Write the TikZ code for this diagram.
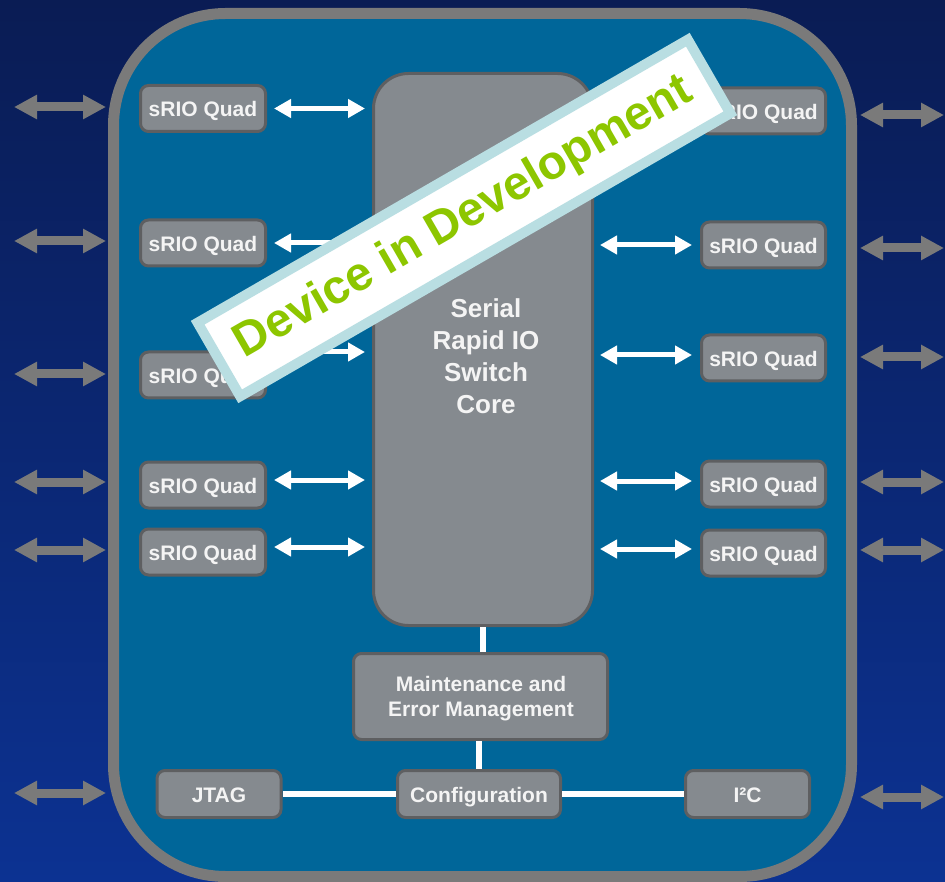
\documentclass[tikz,border=0pt]{standalone}
\usepackage{fontspec}
\setmainfont{Liberation Sans}
\usetikzlibrary{arrows.meta,calc}
\definecolor{bgtop}{HTML}{0A1C54}
\definecolor{bgbot}{HTML}{0C3292}
\definecolor{chip}{HTML}{006699}
\definecolor{frame}{HTML}{7A7A7A}
\definecolor{boxfill}{HTML}{858A8F}
\definecolor{boxline}{HTML}{5E5F61}
\definecolor{bannerline}{HTML}{B9DEE2}
\definecolor{bannertext}{HTML}{8DC600}
\definecolor{txt}{HTML}{F4F4F4}

\begin{document}
\begin{tikzpicture}[x=1pt,y=-1pt,
  blk/.style={draw=boxline, line width=3pt, fill=boxfill, rounded corners=8pt,
    text=txt, font=\bfseries\fontsize{21}{25}\selectfont, align=center, inner sep=0pt},
  oneline/.style={blk, text height=17pt, text depth=0pt},
  quad/.style={oneline, minimum width=125pt, minimum height=46pt},
  lowbox/.style={oneline, minimum width=124pt, minimum height=47pt},
  warrow/.style={draw=white, line width=5pt,
    {Triangle[length=17pt,width=18pt]}-{Triangle[length=17pt,width=18pt]}},
  garrow/.style={draw=frame, line width=9pt,
    {Triangle[length=23pt,width=23pt]}-{Triangle[length=23pt,width=23pt]}},
  wline/.style={draw=white, line width=6pt}
]
\useasboundingbox (0,0) rectangle (945,882);
% backdrop
\fill[top color=bgtop, bottom color=bgbot] (0,0) rectangle (945,882);

% chip outline
\node[draw=frame, fill=chip, line width=11pt, rounded corners=112pt,
      minimum width=738pt, minimum height=863pt, inner sep=0pt] (chip) at (482.5,445) {};

% off-chip links
\foreach \y [count=\i] in {107,241,374,482,550,793} {
  \coordinate (la\i) at (14,\y);
  \coordinate (lb\i) at (106,\y);
  \draw[garrow] (la\i) -- (lb\i);
}
\foreach \y [count=\i] in {115,248,357,482,550,797} {
  \coordinate (ra\i) at (860,\y);
  \coordinate (rb\i) at (944,\y);
  \draw[garrow] (ra\i) -- (rb\i);
}

% switch core
\node[blk, rounded corners=35pt, minimum width=219pt, minimum height=552pt] (core) at (483,349.5) {};
\node[text=txt, font=\bfseries\fontsize{26}{32}\selectfont, align=center] (coretext) at (486,356)
  {Serial\\Rapid IO\\Switch\\Core};

% sRIO quads
\foreach \y [count=\i] in {108.5,243,375,485,552}
  \node[quad] (L\i) at (203,\y) {sRIO Quad};
\foreach \y [count=\i] in {111,245,358,484,553}
  \node[quad, minimum width=124pt] (R\i) at (763.5,\y) {sRIO Quad};

% links between quads and core
\foreach \i/\dy in {1/0,2/0,3/-23,4/-5,5/-5} {
  \coordinate (lq\i) at ($(L\i.east)+(0,\dy)$);
  \draw[warrow, shorten <=7pt, shorten >=7pt] (lq\i) -- (lq\i -| core.west);
}
\foreach \i/\dy in {1/0,2/0,3/-3,4/-3,5/-4} {
  \coordinate (rq\i) at ($(R\i.west)+(0,\dy)$);
  \draw[warrow, shorten <=6pt, shorten >=8pt] (rq\i -| core.east) -- (rq\i);
}

% management blocks
\node[blk, minimum width=254pt, minimum height=86pt] (maint) at (480.5,696.5) {};
\node[text=txt, font=\bfseries\fontsize{21}{25}\selectfont, align=center, inner sep=0pt]
  (mainttext) at (481,699) {Maintenance and\\Error Management};
\node[oneline, minimum width=163pt, minimum height=47pt] (config) at (479,794) {Configuration};
\node[lowbox] (jtag) at (219,794) {JTAG};
\node[lowbox] (iic) at (747.5,794) {I²C};

\draw[wline] (core.south) -- (core.south |- maint.north);
\draw[wline] (config.north |- maint.south) -- (config.north);
\draw[wline] (config.west) -- (jtag.east);
\draw[wline] (config.east) -- (iic.west);

% status banner
\node[rotate=30, fill=white, draw=bannerline, line width=10pt,
      minimum width=566pt, minimum height=85pt, inner sep=0pt,
      text=bannertext, font=\bfseries\fontsize{47.5}{48}\selectfont] (banner) at (464,218)
  {Device in Development};
\end{tikzpicture}
\end{document}
